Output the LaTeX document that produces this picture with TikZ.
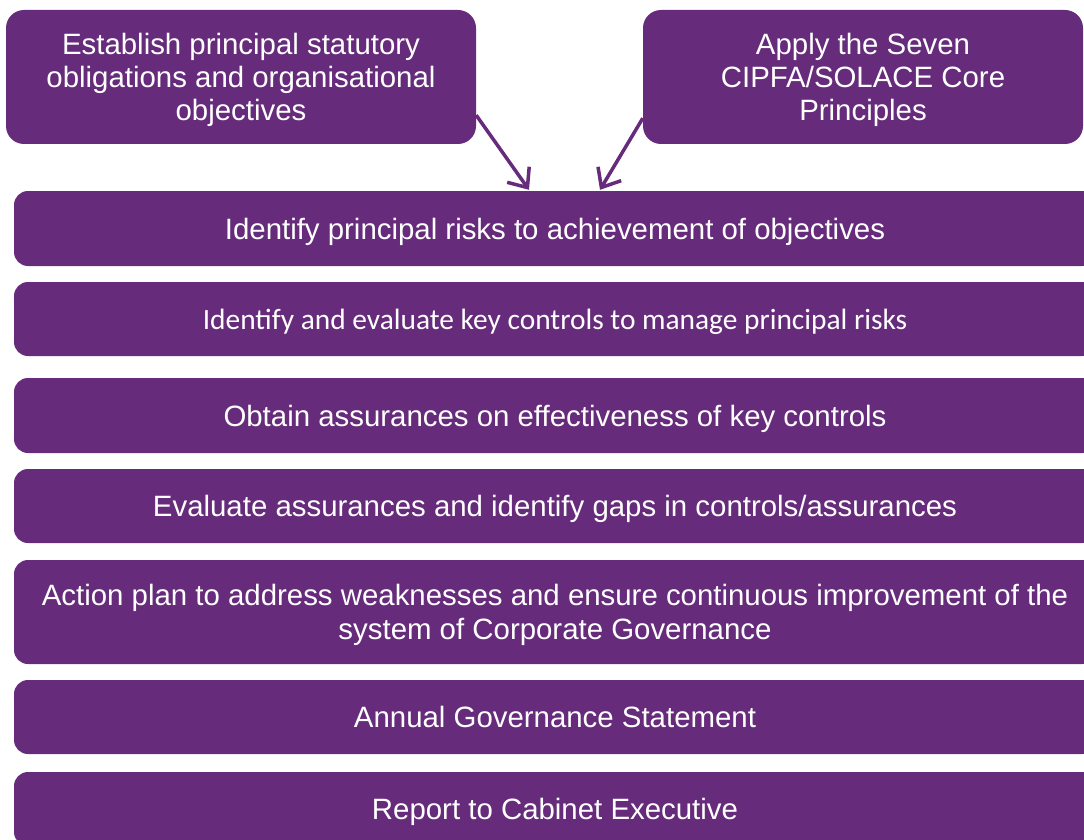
\documentclass[tikz,border=0pt]{standalone}
\usepackage{fontspec}
\setmainfont{Liberation Sans}
\newfontfamily\calibrifont{Carlito}
\usetikzlibrary{arrows.meta}
\definecolor{govpurple}{RGB}{103,43,123}
\tikzset{topbox/.style = {shape=rectangle,fill=govpurple,text=white,rounded corners=18pt,
  minimum width=470pt,minimum height=134pt,align=center,inner sep=0pt,text depth=-3pt,
  font=\fontsize{29.4}{33}\selectfont}}
\tikzset{bar/.style = {shape=rectangle,fill=govpurple,text=white,rounded corners=14pt,
  minimum width=1082pt,minimum height=75pt,align=center,inner sep=0pt,text depth=-2pt,
  font=\fontsize{29.4}{34}\selectfont}}
\tikzset{flow/.style = {-{Straight Barb[length=16pt,width=27pt,line width=3.5pt]},line width=3.5pt,govpurple}}

\begin{document}
\begin{tikzpicture}[x=1pt,y=-1pt]
\useasboundingbox (0,0) rectangle (1084,840);
\clip (0,0) rectangle (1084,840);

\node[topbox] (oblig) at (241,77) {Establish principal statutory\\obligations and organisational\\objectives};
\node[topbox,minimum width=440pt] (princ) at (863,77) {Apply the Seven\\CIPFA/SOLACE Core\\Principles};

\node[bar] (risks) at (555,228.5) {Identify principal risks to achievement of objectives};
\node[bar,minimum height=74pt,font=\calibrifont\fontsize{29.4}{34}\selectfont] (controls) at (555,319) {Identify and evaluate key controls to manage principal risks};
\node[bar] (assure) at (555,415.5) {Obtain assurances on effectiveness of key controls};
\node[bar,minimum height=74pt] (gaps) at (555,506) {Evaluate assurances and identify gaps in controls/assurances};
\node[bar,minimum height=104pt] (action) at (555,612) {Action plan to address weaknesses and ensure continuous improvement of the\\system of Corporate Governance};
\node[bar,minimum height=74pt] (annual) at (555,717) {Annual Governance Statement};
\node[bar,minimum height=74pt] (report) at (555,809) {Report to Cabinet Executive};

\draw[flow] ([yshift=29pt]oblig.south east) -- ([xshift=-26pt,yshift=1pt]risks.north);
\draw[flow] ([yshift=26pt]princ.south west) -- ([xshift=45pt,yshift=1pt]risks.north);

\end{tikzpicture}
\end{document}
